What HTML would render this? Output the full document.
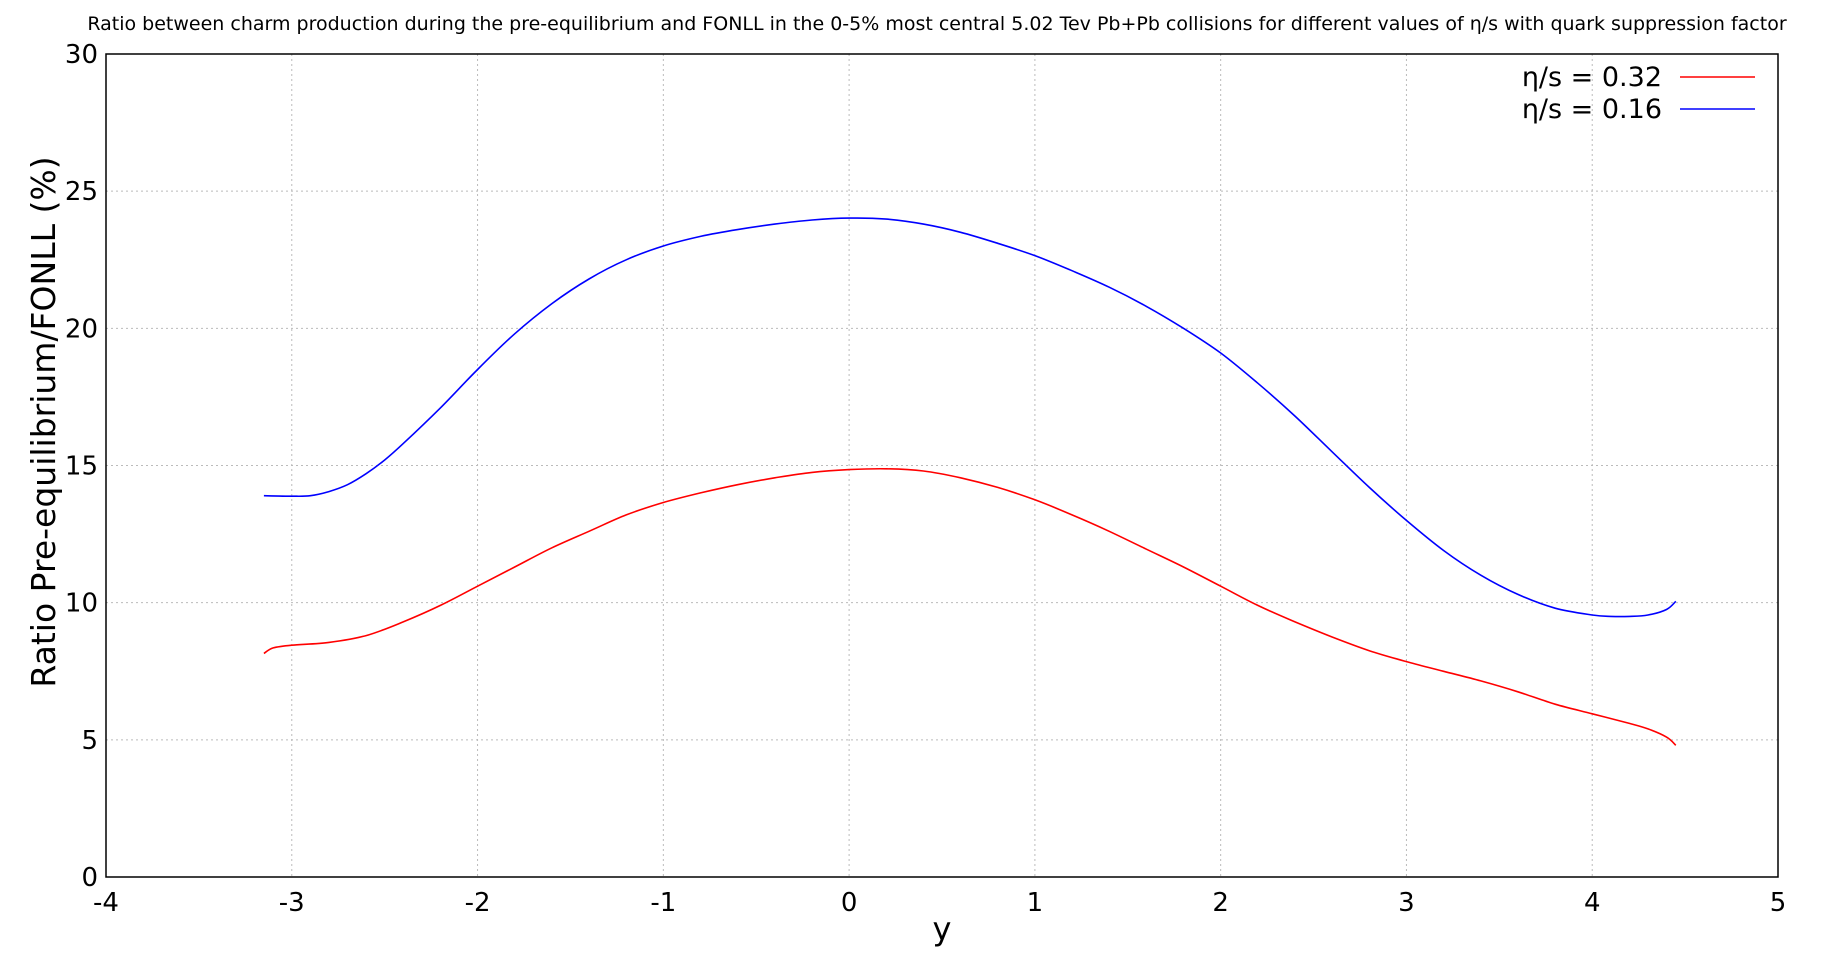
<!DOCTYPE html>
<html><head><meta charset="utf-8"><style>body{margin:0;background:#fff}svg{display:block;font-family:"DejaVu Sans","Liberation Sans",sans-serif}</style></head>
<body>
<svg id="c" width="1848" height="953"></svg>
<script>
const xs=[-3.15,-3.0,-2.9,-2.8,-2.7,-2.6,-2.5,-2.4,-2.2,-2.0,-1.8,-1.6,-1.4,-1.2,-1.0,-0.8,-0.6,-0.4,-0.2,0,0.2,0.4,0.6,0.8,1.0,1.2,1.4,1.6,1.8,2.0,2.2,2.4,2.6,2.8,3.0,3.2,3.4,3.6,3.8,4.0,4.1,4.2,4.3,4.4,4.45];
const blue=[13.9,13.88,13.9,14.05,14.3,14.7,15.2,15.8,17.1,18.5,19.8,20.9,21.8,22.5,23.0,23.35,23.6,23.8,23.95,24.02,23.98,23.8,23.5,23.1,22.65,22.1,21.5,20.8,20.0,19.1,18.0,16.8,15.5,14.2,13.0,11.9,11.0,10.3,9.8,9.55,9.5,9.5,9.55,9.75,10.05];
const rxs=[-3.15,-3.1,-3.0,-2.8,-2.6,-2.4,-2.2,-2.0,-1.8,-1.6,-1.4,-1.2,-1.0,-0.8,-0.6,-0.4,-0.2,0,0.2,0.4,0.6,0.8,1.0,1.2,1.4,1.6,1.8,2.0,2.2,2.4,2.6,2.8,3.0,3.2,3.4,3.6,3.8,4.0,4.2,4.3,4.4,4.45];
const red=[8.15,8.35,8.45,8.55,8.8,9.3,9.9,10.6,11.3,12.0,12.6,13.2,13.65,14.0,14.3,14.55,14.75,14.85,14.88,14.8,14.55,14.2,13.75,13.2,12.6,11.95,11.3,10.6,9.9,9.3,8.75,8.25,7.85,7.5,7.15,6.75,6.3,5.95,5.6,5.4,5.1,4.8];
const xTicks=[-4,-3,-2,-1,0,1,2,3,4,5];
const yTicks=[0,5,10,15,20,25,30];
const L=106,R=1778,T=54,B=877;
const X=v=>L+(v+4)/9*(R-L), Y=v=>B-v/30*(B-T);
const s=document.getElementById('c');const NS='http://www.w3.org/2000/svg';
function mk(t,a,p){const e=document.createElementNS(NS,t);for(const k in a)e.setAttribute(k,a[k]);(p||s).appendChild(e);return e;}
xTicks.forEach(v=>{const g=mk('line',{x1:X(v),x2:X(v),y1:T,y2:B,stroke:'#bbb','stroke-dasharray':'2,3'});

const t=mk('text',{x:X(v),y:B+34,'text-anchor':'middle','font-size':26});t.textContent=v;
});
yTicks.forEach(v=>{const g=mk('line',{x1:L,x2:R,y1:Y(v),y2:Y(v),stroke:'#bbb','stroke-dasharray':'2,3'});

const t=mk('text',{x:L-8,y:Y(v)+9,'text-anchor':'end','font-size':26});t.textContent=v;
});
const fr=mk('rect',{x:L,y:T,width:R-L,height:B-T,fill:'none',stroke:'#000','stroke-width':1.5});

function line(xa,ya,c,n){
const P=xa.map((x,i)=>[X(x),Y(ya[i])]);
let d='M'+P[0][0].toFixed(1)+','+P[0][1].toFixed(1);
for(let i=0;i<P.length-1;i++){const p0=P[Math.max(i-1,0)],p1=P[i],p2=P[i+1],p3=P[Math.min(i+2,P.length-1)];
const c1=[p1[0]+(p2[0]-p0[0])/6,p1[1]+(p2[1]-p0[1])/6],c2=[p2[0]-(p3[0]-p1[0])/6,p2[1]-(p3[1]-p1[1])/6];
d+='C'+c1.map(v=>v.toFixed(1))+' '+c2.map(v=>v.toFixed(1))+' '+p2.map(v=>v.toFixed(1));}
const p=mk('path',{d:d,fill:'none',stroke:c,'stroke-width':1.6});
}
line(rxs,red,'#f00','series-eta-s-0.32');
line(xs,blue,'#00f','series-eta-s-0.16');
const tt=mk('text',{x:937,y:30,'text-anchor':'middle','font-size':19});tt.textContent='Ratio between charm production during the pre-equilibrium and FONLL in the 0-5% most central 5.02 Tev Pb+Pb collisions for different values of η/s with quark suppression factor';

const xl=mk('text',{x:(L+R)/2,y:940,'text-anchor':'middle','font-size':32});xl.textContent='y';

const yl=mk('text',{x:0,y:0,'text-anchor':'middle','font-size':33,transform:'translate(55,422) rotate(-90)'});yl.textContent='Ratio Pre-equilibrium/FONLL (%)';

[['η/s = 0.32','#f00',77],['η/s = 0.16','#00f',109]].forEach(r=>{
const t=mk('text',{x:1662,y:r[2]+9,'text-anchor':'end','font-size':27});t.textContent=r[0];

const l=mk('line',{x1:1680,x2:1755,y1:r[2],y2:r[2],stroke:r[1],'stroke-width':1.6});
});
</script>
</body></html>
